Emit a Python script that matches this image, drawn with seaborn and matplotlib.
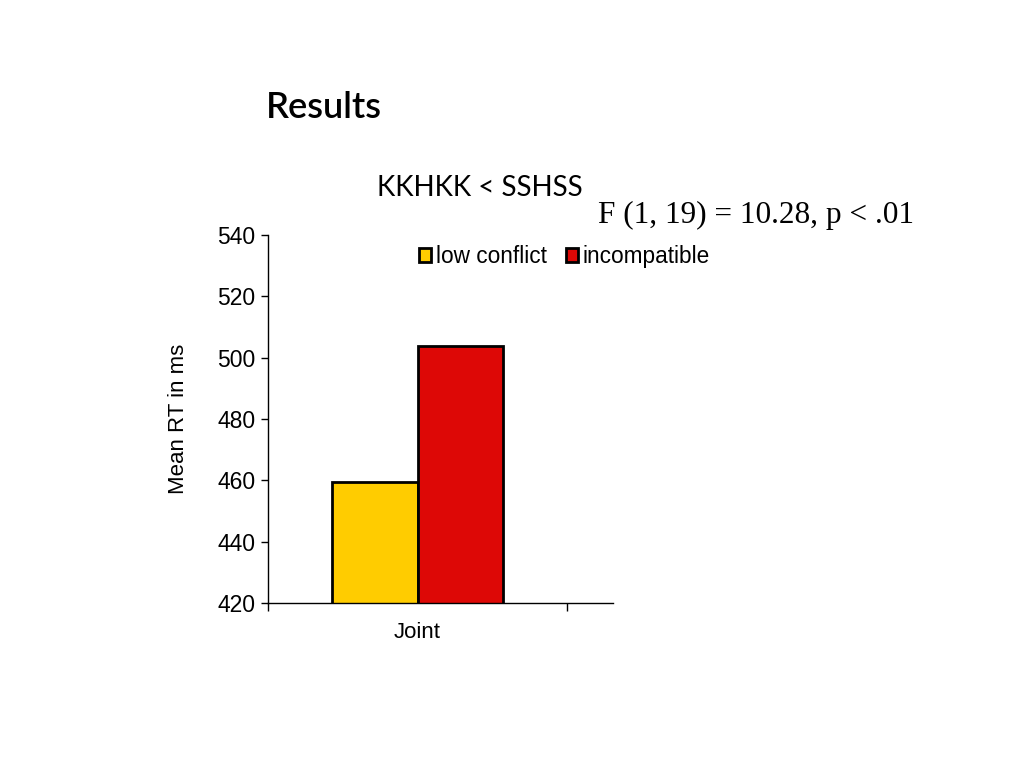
import matplotlib
matplotlib.use("Agg")
import matplotlib.pyplot as plt
import seaborn as sns
import pandas as pd

categories = ["Joint"]
conditions = ["low conflict", "incompatible"]
mean_rt = [459.5, 503.8]
colors = ["#FFCC00", "#DD0806"]

df = pd.DataFrame({"cat": categories * 2, "cond": conditions, "rt": mean_rt})

sns.set_theme(style="white")
plt.rcParams['font.family'] = ['Liberation Sans', 'DejaVu Sans']
plt.rcParams['text.color'] = 'black'
plt.rcParams['axes.labelcolor'] = 'black'
plt.rcParams['xtick.color'] = 'black'
plt.rcParams['ytick.color'] = 'black'

fig = plt.figure(figsize=(10.24, 7.68), dpi=100)
W, H = 1024, 768
ax = fig.add_axes([268 / W, 1 - 603 / H, (613 - 268) / W, (603 - 235) / H])

sns.barplot(data=df, x="cat", y="rt", hue="cond", palette=colors, width=0.575,
            edgecolor="black", linewidth=2, ax=ax, saturation=1, legend=True)

ax.set_ylim(420, 540)
ax.set_xlim(-0.5, 0.5 + 46 / 299)
ax.set_yticks([420, 440, 460, 480, 500, 520, 540])
ax.tick_params(axis="y", which="major", length=5, width=1, direction="out", labelsize=16.5, pad=4, left=True)
ax.tick_params(axis="x", which="major", length=0, labelsize=16, pad=14)
ax.set_xticks([-0.5, 0.5], minor=True)
ax.tick_params(axis="x", which="minor", length=6, width=1, direction="out", bottom=True)
for s in ["top", "right"]:
    ax.spines[s].set_visible(False)
for s in ["left", "bottom"]:
    ax.spines[s].set_color("black")
    ax.spines[s].set_linewidth(1)
ax.set_xlabel("")
ax.set_ylabel("Mean RT in ms", fontsize=16, labelpad=20)

leg = ax.legend(loc="upper left", bbox_to_anchor=((405 - 268) / 345, 1.01), ncol=2,
                frameon=False, fontsize=16.3, handlelength=0.55, handleheight=0.55,
                handletextpad=0.2, columnspacing=0.85, borderaxespad=0.2)

fig.text(266 / W, 1 - 108 / H, "Results", fontsize=26, ha="left", va="center",
         family=["Lato", "DejaVu Sans"], fontweight="semibold")
fig.text(377 / W, 1 - 188 / H, "KKHKK < SSHSS", fontsize=20, ha="left", va="center",
         family=["Lato", "DejaVu Sans"])
fig.text(598 / W, 1 - 215 / H, "F (1, 19) = 10.28, p < .01", fontsize=22.5, ha="left", va="center",
         family=["Liberation Serif", "DejaVu Serif"])

fig.savefig("out.png", dpi=100)
